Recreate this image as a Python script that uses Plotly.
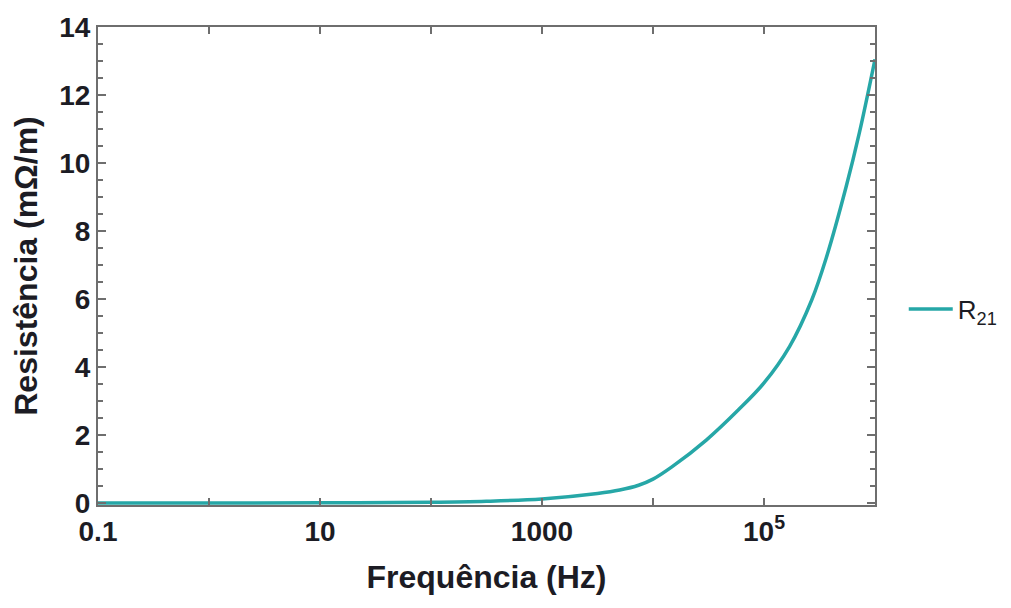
import plotly.graph_objects as go

# Resistance R21 versus frequency (log scale)
freq_hz = [0.1, 1, 10, 100, 316, 1000, 3162, 5012, 7413, 10000, 14791, 30200,
           58884, 100000, 169824, 269153, 363078, 549541, 724436, 1000000]
resist_mohm_m = [0.0, 0.0, 0.005, 0.02, 0.05, 0.12, 0.28, 0.38, 0.52, 0.7, 1.06,
                 1.85, 2.74, 3.53, 4.6, 5.97, 7.2, 9.3, 10.9, 13.05]

x_tickvals = [0.1, 10, 1000, 100000]
x_ticktext = ["0.1", "10", "1000", "10<sup>5</sup>"]
x_minor = [1, 100, 10000, 1000000]
y_tickvals = [0, 2, 4, 6, 8, 10, 12, 14]

teal = "#26a7a7"
frame = "#6e6e6e"
ink = "#1c1c24"
font_family = "Liberation Sans, Arial, sans-serif"

fig = go.Figure()
fig.add_trace(go.Scatter(
    x=freq_hz, y=resist_mohm_m, mode="lines",
    line=dict(color=teal, width=3.5, shape="spline", smoothing=1.0),
    name="R<sub>21</sub>",
))

fig.update_layout(
    width=1011, height=608,
    margin=dict(l=98, r=136, t=27, b=103, autoexpand=False),
    paper_bgcolor="white", plot_bgcolor="white",
    font=dict(family=font_family, color=ink),
    showlegend=True,
    legend=dict(x=1.037, y=0.41, xanchor="left", yanchor="middle",
                font=dict(size=26, family=font_family, color=ink),
                bgcolor="rgba(0,0,0,0)", itemwidth=44),
)

fig.update_xaxes(
    type="log", range=[-1, 6],
    tickvals=x_tickvals, ticktext=x_ticktext,
    ticks="inside", ticklen=7, tickcolor=frame, tickwidth=1.5,
    minor=dict(tickvals=x_minor, ticks="inside", ticklen=7,
               tickcolor=frame, tickwidth=1.5, showgrid=False),
    showline=True, linecolor=frame, linewidth=2, mirror="ticks",
    showgrid=False, zeroline=False,
    tickfont=dict(size=28, family=font_family, color=ink, weight=700),
    title=dict(text="Frequência (Hz)", standoff=20,
               font=dict(size=32, family=font_family, color=ink, weight=700)),
)

fig.update_yaxes(
    range=[-0.06, 14],
    tickvals=y_tickvals,
    ticks="inside", ticklen=8, tickcolor=frame, tickwidth=1.5,
    minor=dict(dtick=0.5, ticks="inside", ticklen=5,
               tickcolor=frame, tickwidth=1.5, showgrid=False),
    showline=True, linecolor=frame, linewidth=2, mirror="ticks",
    showgrid=False, zeroline=False,
    tickfont=dict(size=28, family=font_family, color=ink, weight=700),
    title=dict(text="Resistência (mΩ/m)", standoff=12,
               font=dict(size=32, family=font_family, color=ink, weight=700)),
)

fig.write_html("out.html")
